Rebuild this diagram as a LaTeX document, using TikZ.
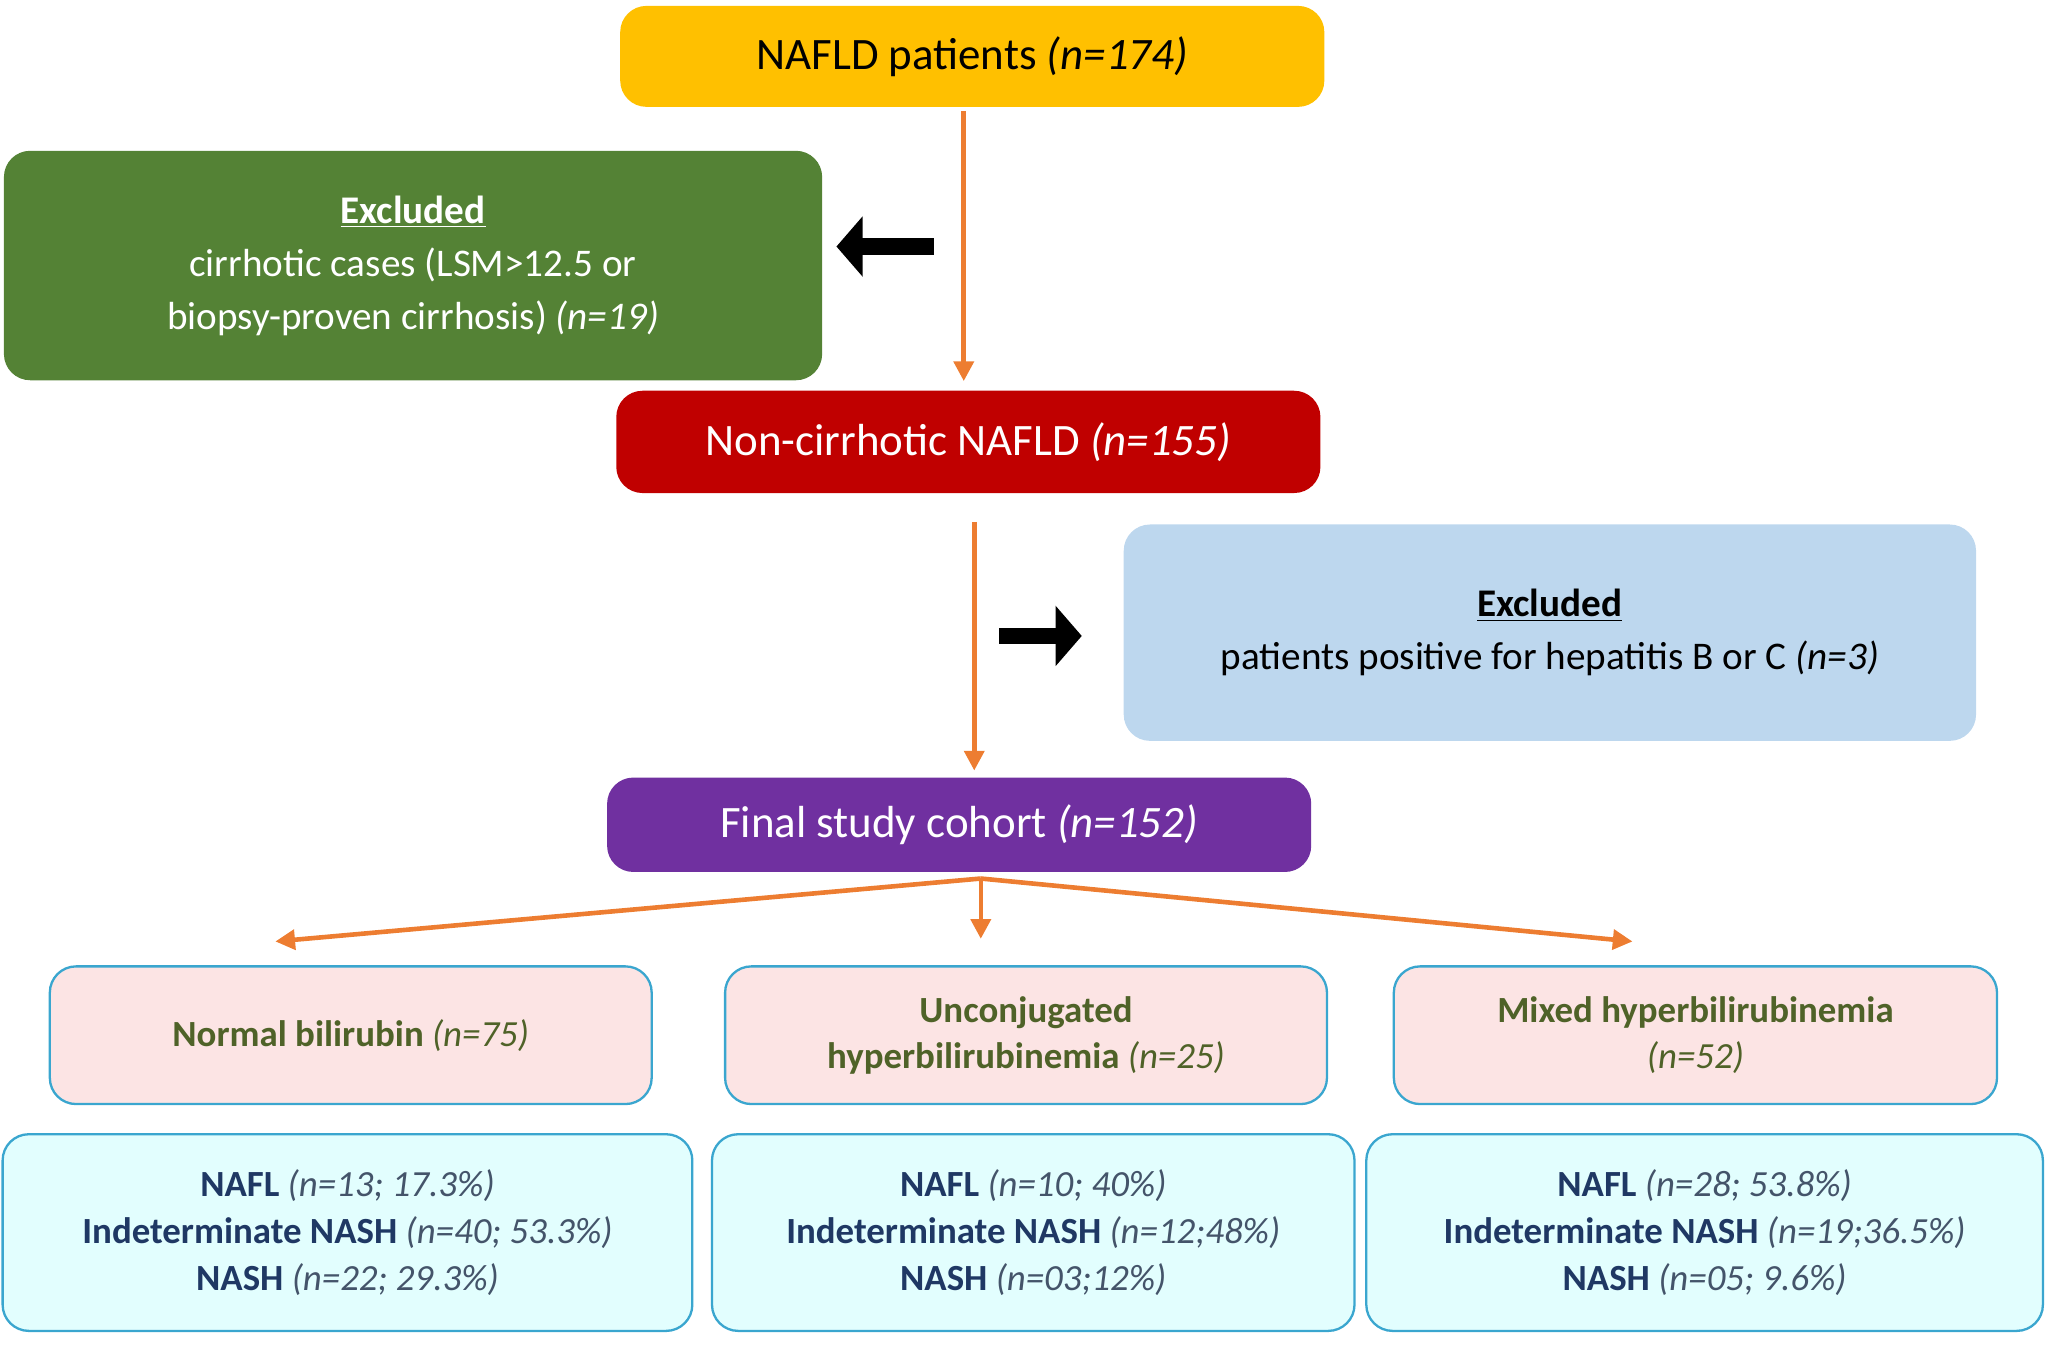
\documentclass[tikz,border=0pt]{standalone}
\usepackage{fontspec}
\setmainfont{Carlito}
\usetikzlibrary{arrows.meta}
\definecolor{nyellow}{HTML}{FFC000}
\definecolor{ngreen}{HTML}{548235}
\definecolor{nred}{HTML}{C00000}
\definecolor{nblue}{HTML}{BDD7EE}
\definecolor{npurple}{HTML}{7030A0}
\definecolor{npink}{HTML}{FCE4E4}
\definecolor{ncyan}{HTML}{E2FEFE}
\definecolor{nborder}{HTML}{3AA6CF}
\definecolor{norange}{HTML}{ED7D31}
\definecolor{nolive}{HTML}{4F6228}
\definecolor{nnavy}{HTML}{1F3864}
\definecolor{ngrey}{HTML}{44546A}
\begin{document}
\begin{tikzpicture}
  [x=0.2mm,y=-0.2mm,
   box/.style={rounded corners=4mm,align=center,inner sep=2pt},
   group/.style={box,fill=npink,draw=nborder,line width=1pt,text=nolive,
     minimum height=21mm,font=\fontsize{16}{20}\selectfont\bfseries},
   result/.style={box,fill=ncyan,draw=nborder,line width=1pt,text=nnavy,
     minimum height=30mm,font=\fontsize{16}{20.5}\selectfont\bfseries},
   flow/.style={norange,line width=2pt,-{Triangle[length=3mm,width=3mm]}},
   side/.style={black,line width=7pt,-{Triangle[length=4mm,width=9mm]}}]
  \useasboundingbox (0,0) rectangle (1568,1026);

  \node[box,fill=nyellow,minimum width=107.4mm,minimum height=15.4mm,
    font=\fontsize{19.5}{22}\selectfont] (nafld) at (741.5,43) {NAFLD patients \textit{(n=174)}};
  \node[box,fill=ngreen,text=white,minimum width=124.8mm,minimum height=35mm,
    font=\fontsize{17}{23}\selectfont] (excl1) at (315,202.5)
    {\textbf{\underline{Excluded}}\\cirrhotic cases (LSM>12.5 or\\biopsy-proven cirrhosis) \textit{(n=19)}};
  \node[box,fill=nred,text=white,minimum width=107.4mm,minimum height=15.6mm,
    font=\fontsize{19.5}{22}\selectfont] (noncirr) at (738.5,337) {Non-cirrhotic NAFLD \textit{(n=155)}};
  \node[box,fill=nblue,minimum width=130mm,minimum height=33mm,
    font=\fontsize{17}{23}\selectfont] (excl2) at (1182,482.5)
    {\textbf{\underline{Excluded}}\\patients positive for hepatitis B or C \textit{(n=3)}};
  \node[box,fill=npurple,text=white,minimum width=107.4mm,minimum height=14.4mm,
    font=\fontsize{19.5}{22}\selectfont] (cohort) at (731.5,629) {Final study cohort \textit{(n=152)}};

  \node[group,minimum width=91.8mm] (normal) at (267.5,789.5)
    {Normal bilirubin \textit{\mdseries(n=75)}};
  \node[group,minimum width=91.8mm] (uncon) at (782.5,789.5)
    {Unconjugated\\hyperbilirubinemia \textit{\mdseries(n=25)}};
  \node[group,minimum width=92mm] (mixed) at (1293,789.5)
    {Mixed hyperbilirubinemia\\\textit{\mdseries(n=52)}};

  \node[result,minimum width=105.2mm] (res1) at (265,940)
    {NAFL {\color{ngrey}\mdseries\itshape(n=13; 17.3\%)}\\
     Indeterminate NASH {\color{ngrey}\mdseries\itshape(n=40; 53.3\%)}\\
     NASH {\color{ngrey}\mdseries\itshape(n=22; 29.3\%)}};
  \node[result,minimum width=98mm] (res2) at (788,940)
    {NAFL {\color{ngrey}\mdseries\itshape(n=10; 40\%)}\\
     Indeterminate NASH {\color{ngrey}\mdseries\itshape(n=12;48\%)}\\
     NASH {\color{ngrey}\mdseries\itshape(n=03;12\%)}};
  \node[result,minimum width=103.2mm] (res3) at (1300,940)
    {NAFL {\color{ngrey}\mdseries\itshape(n=28; 53.8\%)}\\
     Indeterminate NASH {\color{ngrey}\mdseries\itshape(n=19;36.5\%)}\\
     NASH {\color{ngrey}\mdseries\itshape(n=05; 9.6\%)}};

  % flow arrows
  \coordinate (top1) at (735,85);
  \coordinate (top2) at (743,398);
  \coordinate (split) at (748,670);
  \draw[flow,shorten >=1.4mm] (top1) -- (top1 |- noncirr.north);
  \draw[flow,shorten >=1mm] (top2) -- (top2 |- cohort.north);
  \draw[flow] (split) -- (210,718);
  \draw[flow] (split) -- (748,716);
  \draw[flow] (split) -- (1245,718);

  % side arrows
  \coordinate (s1) at (712,188);
  \coordinate (s2) at (762,485);
  \draw[side] (s1) -- ([xshift=6]excl1.east |- s1);
  \draw[side] (s2) -- ([xshift=-18]excl2.west |- s2);
\end{tikzpicture}
\end{document}
